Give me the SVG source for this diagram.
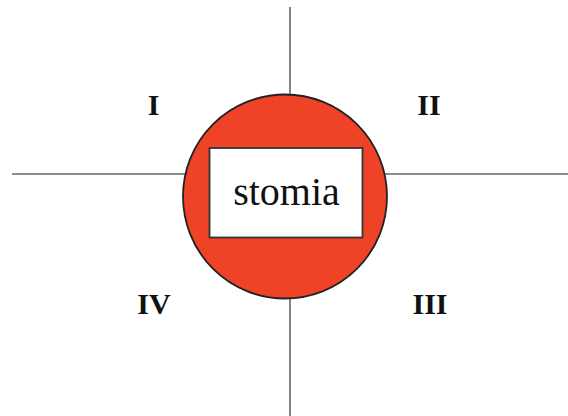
<svg xmlns="http://www.w3.org/2000/svg" width="568" height="416" viewBox="0 0 568 416">
<style>
.axis{stroke:#5f6a6a;stroke-width:1.6;fill:none}
.num{font-family:"Liberation Serif","Times New Roman",serif;font-weight:bold;font-size:30px;fill:#111;text-anchor:middle}
.lbl{font-family:"Liberation Serif","Times New Roman",serif;font-size:40px;fill:#111;text-anchor:middle}
</style>
<rect width="568" height="416" fill="#ffffff"/>
<g id="connectors">
<line class="axis" x1="12" y1="174" x2="568" y2="174"/>
<line class="axis" x1="290" y1="7" x2="290" y2="416"/>
</g>
<g id="stomia">
<circle cx="285" cy="196.5" r="102" fill="#ef4328" stroke="#222" stroke-width="1.8"/>
<rect x="209.5" y="148" width="153" height="89.5" fill="#ffffff" stroke="#333" stroke-width="1.8"/>
<text class="lbl" x="286.5" y="204.5">stomia</text>
</g>
<g id="q1"><text class="num" x="153.5" y="115">I</text></g>
<g id="q2"><text class="num" x="429" y="115">II</text></g>
<g id="q3"><text class="num" x="430" y="314">III</text></g>
<g id="q4"><text class="num" x="154" y="314">IV</text></g>
</svg>
